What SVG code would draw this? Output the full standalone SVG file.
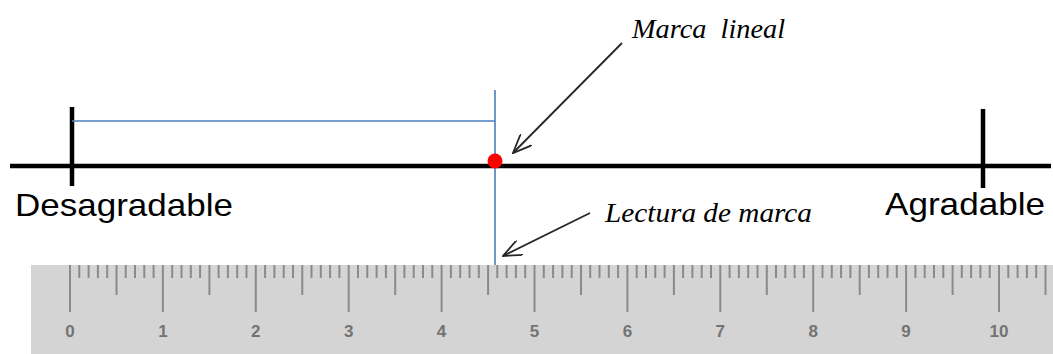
<svg xmlns="http://www.w3.org/2000/svg" width="1053" height="354" viewBox="0 0 1053 354">
<style>
.axis{stroke:#000;stroke-width:4.5;fill:none}
.blue{stroke:#4A7EBB;stroke-width:1.6;fill:none}
.ptr{stroke:#262626;stroke-width:1.8;fill:none}
.lbl{font-family:"Liberation Sans",Arial,sans-serif;font-size:32px;fill:#000}
.note{font-family:"Liberation Serif","Times New Roman",serif;font-style:italic;font-size:28px;fill:#000}
.tick{stroke:#8a8a8a;stroke-width:2;fill:none}
.num{font-family:"Liberation Sans",Arial,sans-serif;font-size:17px;font-weight:bold;fill:#737373;text-anchor:middle}
</style>
<defs>
<marker id="openArrow" viewBox="0 0 20 16" refX="19" refY="8" markerWidth="20" markerHeight="16" markerUnits="userSpaceOnUse" orient="auto">
<path d="M0,0 L19,8 L0,16" fill="none" stroke="#262626" stroke-width="1.8"/>
</marker>
</defs>
<rect width="1053" height="354" fill="#fff"/>

<g id="ruler">
<rect x="31" y="265" width="1022" height="89" fill="#D4D4D4"/>
<path class="tick" d="M70 265V312M162.9 265V312M255.8 265V312M348.7 265V312M441.6 265V312M534.5 265V312M627.4 265V312M720.3 265V312M813.2 265V312M906.1 265V312M999 265V312"/>
<path class="tick" d="M116.5 265V295M209.4 265V295M302.3 265V295M395.2 265V295M488.1 265V295M581 265V295M673.9 265V295M766.8 265V295M859.7 265V295M952.6 265V295M1045.5 265V295"/>
<path class="tick" d="M79.3 265v13M88.6 265v13M97.9 265v13M107.2 265v13M125.7 265v13M135 265v13M144.3 265v13M153.6 265v13M172.2 265v13M181.5 265v13M190.8 265v13M200.1 265v13M218.6 265v13M227.9 265v13M237.2 265v13M246.5 265v13M265.1 265v13M274.4 265v13M283.7 265v13M293 265v13M311.5 265v13M320.8 265v13M330.1 265v13M339.4 265v13M358 265v13M367.3 265v13M376.6 265v13M385.9 265v13M404.4 265v13M413.7 265v13M423 265v13M432.3 265v13M450.9 265v13M460.2 265v13M469.5 265v13M478.8 265v13M497.3 265v13M506.6 265v13M515.9 265v13M525.2 265v13M543.8 265v13M553.1 265v13M562.4 265v13M571.7 265v13M590.2 265v13M599.5 265v13M608.8 265v13M618.1 265v13M636.7 265v13M646 265v13M655.3 265v13M664.6 265v13M683.1 265v13M692.4 265v13M701.7 265v13M711 265v13M729.6 265v13M738.9 265v13M748.2 265v13M757.5 265v13M776 265v13M785.3 265v13M794.6 265v13M803.9 265v13M822.5 265v13M831.8 265v13M841.1 265v13M850.4 265v13M868.9 265v13M878.2 265v13M887.5 265v13M896.8 265v13M915.4 265v13M924.7 265v13M934 265v13M943.3 265v13M961.8 265v13M971.1 265v13M980.4 265v13M989.7 265v13M1008.3 265v13M1017.6 265v13M1026.9 265v13M1036.2 265v13"/>
<text class="num" x="70" y="337">0</text>
<text class="num" x="162.9" y="337">1</text>
<text class="num" x="255.8" y="337">2</text>
<text class="num" x="348.7" y="337">3</text>
<text class="num" x="441.6" y="337">4</text>
<text class="num" x="534.5" y="337">5</text>
<text class="num" x="627.4" y="337">6</text>
<text class="num" x="720.3" y="337">7</text>
<text class="num" x="813.2" y="337">8</text>
<text class="num" x="906.1" y="337">9</text>
<text class="num" x="999" y="337">10</text>
</g>

<g id="scale">
<line class="axis" x1="10" y1="166" x2="1051" y2="166"/>
<line class="axis" x1="72" y1="107" x2="72" y2="186"/>
<line class="axis" x1="983" y1="109" x2="983" y2="188"/>
</g>

<g id="measure">
<line class="blue" x1="72" y1="121" x2="495" y2="121"/>
<line class="blue" x1="495" y1="90" x2="495" y2="265"/>
</g>

<g id="mark">
<circle cx="495" cy="161" r="7.5" fill="#FF0000"/>
</g>

<g id="label-desagradable">
<text class="lbl" x="15" y="216" textLength="218" lengthAdjust="spacingAndGlyphs">Desagradable</text>
</g>
<g id="label-agradable">
<text class="lbl" x="885" y="215" textLength="160" lengthAdjust="spacingAndGlyphs">Agradable</text>
</g>
<g id="note-marca">
<text class="note" x="632" y="38" textLength="153" lengthAdjust="spacingAndGlyphs" xml:space="preserve">Marca  lineal</text>
</g>
<g id="note-lectura">
<text class="note" x="605" y="222" textLength="207" lengthAdjust="spacingAndGlyphs">Lectura de marca</text>
</g>

<g id="connectors">
<line class="ptr" x1="622" y1="43" x2="513" y2="153" marker-end="url(#openArrow)"/>
<line class="ptr" x1="590" y1="213" x2="503" y2="256" marker-end="url(#openArrow)"/>
</g>
</svg>
